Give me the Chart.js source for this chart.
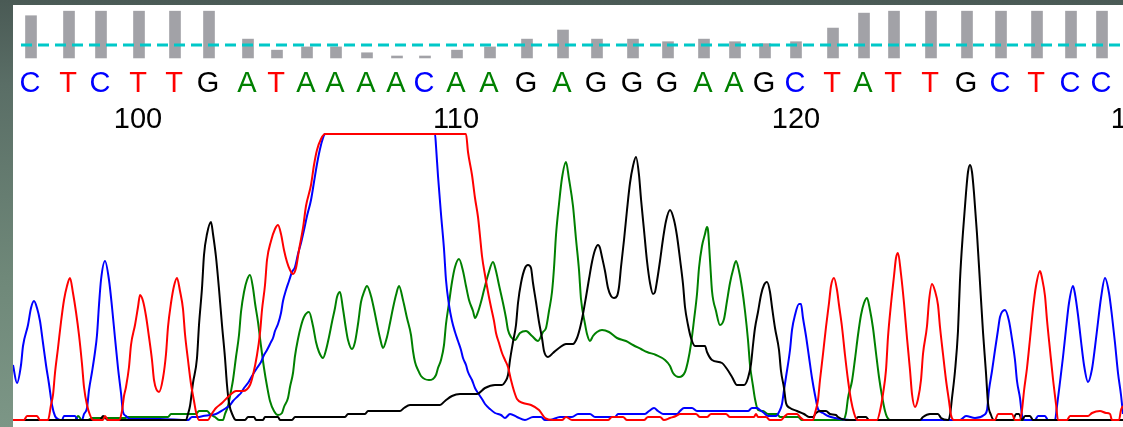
<!DOCTYPE html>
<html>
<head>
<meta charset="utf-8">
<title>Chromatogram</title>
<script src="https://cdn.jsdelivr.net/npm/chart.js@4.4.1/dist/chart.umd.min.js"></script>
<style>
  html, body { margin: 0; padding: 0; }
  body {
    width: 1123px;
    height: 427px;
    overflow: hidden;
    background: linear-gradient(to bottom, #4a5a55 0%, #5a6e66 20%, #6f8879 65%, #7c9686 100%);
  }
  #wrap { position: absolute; left: 0; top: 0; }
</style>
</head>
<body>
<div id="wrap"><canvas id="traceChart" width="1123" height="427"></canvas></div>
<script>
// base calls (first base shown is number 97)
const firstBase = 97;
const bases = ['C','T','C','T','T','G','A','T','A','A','A','A','C','A','A','G','A','G','G','G','A','A','G','C','T','A','T','T','G','C','T','C','C'];
// scan position of every base call
const basePos = [31, 69, 101, 139, 175, 209, 248, 277, 307, 336, 367, 397, 425, 457, 490, 527, 563, 597, 633, 668, 704, 735, 765, 796, 833, 864, 894, 931, 967, 1001, 1037, 1071, 1102];
// quality value per base
const qualities = [65, 72, 72, 72, 72, 72, 29, 12, 17, 17, 8, 3, 3, 12, 17, 29, 43, 29, 29, 25, 29, 25, 22, 25, 46, 69, 72, 72, 72, 72, 72, 72, 72];
const qualityThreshold = 20;
const thresholdSpan = [21, 1123];

// position ruler
const rulerLabels = ['100', '110', '120', '130'];
const rulerPos = [138, 456, 796, 1135];

// raw traces: [scan, signal]
const traceT = [[13,0],[24,0],[27,4],[37,4],[40,0],[48,0],[51,15],[53,25],[55,47],[58,72],[61,98],[64,120],[67,134],[70,142],[73,127],[76,108],[79,85],[82,56],[84,33],[87,15],[90,5],[93,0],[103,0],[105,4],[108,0],[119,0],[122,9],[124,24],[126,33],[129,53],[131,75],[135,95],[138,113],[140,125],[143,119],[146,104],[149,83],[152,60],[154,40],[159,28],[163,42],[166,66],[168,93],[171,117],[174,134],[177,142],[180,129],[183,111],[185,86],[188,60],[191,36],[194,19],[196,8],[199,0],[208,0],[211,5],[216,12],[222,17],[230,25],[236,29],[243,29],[250,35],[253,45],[257,65],[260,87],[262,110],[265,135],[267,160],[271,179],[275,191],[278,195],[281,186],[284,170],[287,158],[290,150],[293,146],[296,152],[299,170],[303,192],[306,214],[311,235],[314,255],[317,270],[321,281],[325,286],[466,286],[468,268],[472,245],[475,222],[478,203],[480,184],[482,164],[485,145],[488,128],[491,113],[494,99],[496,87],[499,77],[502,67],[505,60],[508,53],[511,40],[514,29],[517,21],[523,17],[531,15],[539,10],[545,2],[553,0],[562,0],[566,3],[572,0],[608,0],[612,3],[623,3],[627,0],[644,0],[648,3],[660,3],[664,0],[670,2],[676,4],[680,6],[696,6],[700,3],[707,3],[711,6],[726,6],[730,3],[754,3],[756,6],[758,3],[766,3],[770,0],[781,0],[784,3],[788,6],[797,6],[800,3],[804,0],[813,0],[815,7],[818,20],[820,40],[823,66],[826,93],[829,117],[831,134],[834,142],[837,130],[839,115],[842,93],[845,65],[848,40],[851,20],[854,7],[857,0],[877,0],[880,9],[883,26],[886,50],[888,83],[891,116],[894,144],[896,162],[898,167],[901,146],[904,117],[907,82],[910,50],[912,26],[915,13],[918,21],[921,40],[923,66],[927,94],[929,119],[932,136],[935,129],[938,115],[940,93],[943,66],[946,40],[949,19],[951,5],[954,0],[995,0],[998,6],[1012,6],[1015,0],[1020,0],[1022,10],[1024,29],[1027,52],[1030,81],[1033,111],[1036,134],[1040,149],[1042,142],[1045,124],[1047,100],[1050,70],[1053,41],[1056,16],[1058,0],[1067,0],[1070,4],[1088,4],[1092,7],[1100,9],[1106,7],[1110,6],[1112,0],[1119,0],[1121,10],[1123,14]];

const traceC = [[13,55],[17,37],[21,55],[23,74],[28,95],[31,112],[34,119],[37,112],[40,99],[43,77],[46,55],[49,36],[52,15],[55,4],[58,1],[62,0],[64,4],[75,4],[78,0],[82,0],[84,6],[87,12],[89,30],[92,48],[95,68],[97,85],[99,115],[101,140],[105,159],[109,140],[112,113],[115,82],[118,52],[121,27],[123,8],[126,4],[130,1],[160,1],[188,0],[192,3],[198,3],[203,4],[210,5],[216,6],[223,10],[230,15],[233,19],[238,24],[241,27],[244,32],[248,37],[252,44],[257,52],[261,58],[264,65],[267,70],[271,78],[273,82],[275,89],[278,96],[281,107],[283,119],[286,130],[289,139],[292,148],[295,153],[298,166],[301,177],[304,190],[307,204],[311,220],[314,238],[317,256],[320,271],[323,282],[325,286],[435,286],[436,274],[438,244],[441,206],[444,171],[446,140],[449,115],[452,99],[455,88],[458,79],[461,70],[463,62],[466,55],[468,48],[472,40],[475,32],[478,27],[482,21],[485,16],[490,11],[495,7],[501,5],[505,2],[510,6],[517,3],[525,0],[533,3],[541,3],[545,0],[550,0],[560,3],[572,3],[578,6],[590,6],[595,3],[615,3],[618,6],[645,6],[649,9],[654,12],[658,9],[663,6],[677,6],[680,9],[684,12],[692,12],[697,9],[748,9],[752,12],[757,12],[760,10],[764,7],[768,4],[776,4],[779,8],[782,16],[784,30],[786,43],[790,70],[792,90],[795,105],[799,116],[801,116],[803,102],[806,84],[809,63],[812,42],[815,25],[818,11],[823,7],[828,4],[835,2],[850,0],[960,0],[966,4],[975,2],[984,5],[987,10],[989,30],[992,49],[995,70],[998,90],[1000,103],[1005,110],[1009,99],[1012,81],[1015,60],[1017,39],[1020,22],[1022,5],[1025,0],[1035,0],[1038,4],[1045,4],[1048,0],[1055,0],[1057,14],[1060,38],[1063,63],[1066,91],[1069,117],[1073,134],[1075,126],[1078,105],[1081,79],[1084,55],[1088,38],[1092,51],[1095,73],[1098,98],[1101,122],[1105,142],[1109,127],[1112,104],[1115,77],[1118,47],[1121,25],[1123,6]];

const traceG = [[13,0],[100,0],[103,4],[108,0],[186,0],[188,6],[190,14],[193,37],[197,62],[199,95],[202,132],[204,165],[207,186],[211,198],[213,186],[216,163],[219,131],[222,95],[225,62],[227,35],[229,17],[233,4],[236,0],[245,0],[248,3],[254,3],[256,0],[263,0],[265,3],[278,3],[280,0],[292,0],[295,3],[345,3],[348,6],[365,6],[368,9],[400,9],[404,12],[410,15],[440,15],[445,19],[452,24],[460,26],[477,26],[485,32],[495,35],[502,35],[505,38],[508,45],[510,60],[513,78],[516,95],[518,117],[521,137],[525,152],[528,155],[531,152],[533,137],[536,118],[539,98],[542,82],[544,69],[548,63],[553,67],[559,72],[566,76],[573,76],[577,82],[580,92],[583,106],[586,123],[589,141],[592,158],[595,170],[598,175],[600,172],[602,163],[605,149],[608,132],[611,124],[614,122],[617,124],[619,133],[621,153],[624,180],[627,210],[630,237],[633,254],[636,263],[639,245],[641,221],[644,190],[647,159],[650,137],[653,126],[655,128],[657,139],[660,159],[663,181],[666,199],[670,210],[674,200],[677,184],[680,161],[683,136],[685,113],[688,95],[691,82],[695,74],[705,74],[707,68],[712,60],[722,57],[727,51],[732,43],[737,35],[744,35],[748,42],[751,56],[753,75],[755,92],[758,108],[761,125],[764,135],[767,138],[770,128],[772,113],[775,92],[779,70],[781,49],[784,32],[786,17],[790,12],[797,9],[804,6],[809,3],[813,3],[816,7],[820,9],[826,9],[830,6],[836,5],[838,3],[846,0],[855,0],[858,3],[866,3],[869,0],[920,0],[923,3],[930,6],[938,6],[941,2],[948,0],[950,5],[952,22],[955,49],[958,89],[960,140],[963,188],[966,227],[968,248],[970,255],[972,248],[974,227],[977,186],[980,137],[983,88],[986,47],[988,17],[991,5],[994,0],[1013,0],[1016,6],[1019,6],[1022,0],[1025,4],[1030,4],[1033,0],[1123,0]];

const traceA = [[13,0],[75,0],[78,4],[82,0],[88,0],[92,2],[125,2],[128,3],[168,3],[171,6],[196,6],[199,9],[207,9],[210,6],[215,3],[219,0],[223,0],[225,6],[228,14],[231,29],[233,40],[236,63],[239,85],[241,108],[244,128],[247,140],[250,145],[253,132],[255,117],[258,98],[261,74],[264,52],[267,34],[270,19],[274,9],[278,5],[282,7],[284,13],[288,22],[290,33],[293,47],[295,64],[298,81],[301,94],[304,103],[309,108],[313,94],[316,78],[319,68],[323,62],[326,70],[329,83],[332,98],[335,112],[337,123],[340,128],[343,111],[346,91],[348,80],[352,71],[355,78],[358,96],[361,118],[364,128],[367,134],[371,124],[374,111],[377,96],[380,82],[383,72],[387,83],[390,97],[393,112],[396,125],[399,134],[403,120],[407,102],[411,85],[413,69],[415,58],[418,50],[421,44],[429,40],[436,45],[438,52],[441,60],[444,75],[446,96],[449,117],[452,138],[455,153],[459,161],[463,149],[466,134],[469,120],[473,109],[475,102],[478,108],[481,118],[484,130],[488,145],[493,158],[496,149],[499,135],[503,117],[506,102],[508,90],[511,83],[515,80],[520,87],[526,89],[532,84],[538,79],[543,88],[546,92],[549,109],[552,128],[554,152],[556,185],[559,216],[562,242],[566,258],[569,241],[573,214],[576,181],[579,150],[581,121],[585,96],[587,86],[590,79],[593,84],[597,88],[602,90],[609,88],[617,82],[626,79],[633,75],[641,71],[647,68],[656,65],[665,60],[670,54],[673,47],[679,43],[685,48],[688,59],[691,76],[694,100],[697,126],[699,152],[702,174],[705,186],[707,193],[708,190],[710,160],[712,129],[716,109],[720,95],[724,101],[727,119],[730,137],[733,150],[736,159],[739,149],[742,132],[745,109],[748,80],[750,55],[753,34],[755,21],[758,10],[763,9],[768,6],[777,6],[780,3],[798,3],[802,0],[843,0],[846,7],[848,22],[852,39],[855,61],[858,85],[861,105],[864,117],[867,122],[870,110],[873,92],[876,67],[879,43],[882,24],[885,9],[887,3],[890,0],[1123,0]];

const baseColors = { A: '#008000', C: '#0000ff', G: '#000000', T: '#ff0000' };

function toPoints(pairs) {
    return pairs.map(function(p) { return { x: p[0], y: p[1] }; });
}

function traceDataset(label, pairs, color, order) {
    return {
        type: 'line',
        label: label,
        data: toPoints(pairs),
        borderColor: color,
        borderWidth: 2,
        pointRadius: 0,
        cubicInterpolationMode: 'monotone',
        fill: false,
        order: order,
        yAxisID: 'y'
    };
}

// white panel, base letters and ruler numbers
const decorPlugin = {
    id: 'decor',
    beforeDraw: function(chart) {
        const ctx = chart.ctx;
        ctx.save();
        ctx.fillStyle = '#ffffff';
        ctx.fillRect(13, 5, chart.width - 13, chart.height - 5);
        ctx.restore();
    },
    afterDraw: function(chart) {
        const ctx = chart.ctx;
        const xScale = chart.scales.x;
        ctx.save();
        ctx.textAlign = 'center';
        ctx.textBaseline = 'alphabetic';
        ctx.font = '29px "Liberation Sans", Arial, sans-serif';
        bases.forEach(function(b, i) {
            ctx.fillStyle = baseColors[b];
            ctx.fillText(b, xScale.getPixelForValue(basePos[i]) - 1, 92);
        });
        ctx.fillStyle = '#000000';
        ctx.font = '29px "Liberation Sans", Arial, sans-serif';
        rulerLabels.forEach(function(t, i) {
            ctx.fillText(t, xScale.getPixelForValue(rulerPos[i]), 128);
        });
        ctx.restore();
    }
};

const ctx = document.getElementById('traceChart').getContext('2d');
const chart = new Chart(ctx, {
    type: 'line',
    data: {
        datasets: [
            traceDataset('T', traceT, baseColors.T, 0),
            traceDataset('G', traceG, baseColors.G, 1),
            traceDataset('C', traceC, baseColors.C, 2),
            traceDataset('A', traceA, baseColors.A, 3),
            {
                type: 'line',
                label: 'threshold',
                data: thresholdSpan.map(function(x) { return { x: x, y: qualityThreshold }; }),
                borderColor: '#00c8c8',
                borderWidth: 3,
                borderDash: [11, 6],
                pointRadius: 0,
                order: 4,
                yAxisID: 'q'
            },
            {
                type: 'bar',
                label: 'quality',
                data: basePos.map(function(x, i) { return { x: x, y: qualities[i] }; }),
                backgroundColor: '#a2a2a7',
                barThickness: 11,
                order: 5,
                yAxisID: 'q'
            }
        ]
    },
    options: {
        responsive: false,
        animation: false,
        devicePixelRatio: 1,
        layout: { padding: { left: 13, top: 5, right: 0, bottom: 0 } },
        plugins: {
            legend: { display: false },
            tooltip: { enabled: false }
        },
        events: [],
        scales: {
            x: { type: 'linear', min: 13, max: 1123, offset: false, display: false },
            y: { type: 'linear', min: -7, max: 415, display: false },
            q: { type: 'linear', min: -568, max: 81.5, display: false }
        }
    },
    plugins: [decorPlugin]
});
</script>
</body>
</html>
